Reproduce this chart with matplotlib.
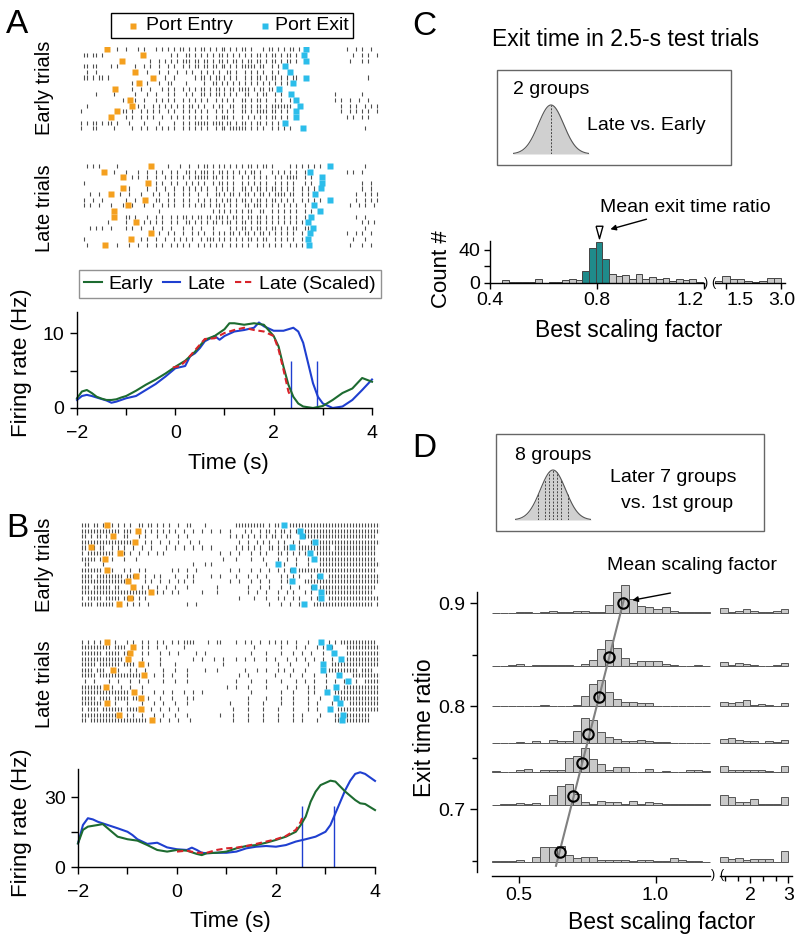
import numpy as np
import matplotlib
matplotlib.use('Agg')
import matplotlib.pyplot as plt
from matplotlib.lines import Line2D
from matplotlib.patches import Rectangle

plt.rcParams['font.family'] = ['Liberation Sans', 'DejaVu Sans']
plt.rcParams['axes.linewidth'] = 1.0

W, H = 796, 939

ORANGE = '#f4a01f'
CYAN = '#2cbdea'
GREEN = '#1d6b30'
BLUE = '#1f3fd0'
RED = '#d8232a'
TEAL = '#1f8b8b'
BAR_GRAY = '#c9c9c9'
SPIKE = '#4d4d4d'

# raster bins: spike at bin i -> time RASTER_T0 + i * RASTER_DT (s)
RASTER_T0 = -2.05
RASTER_DT = 0.061

# ---------------- panel A raster (bin indexes) ----------------
A_EARLY_SPIKES = [
    [14, 17, 21, 23, 27, 29, 31, 33, 35, 36, 38, 40, 42, 43, 45, 47, 49, 50, 52, 54, 56, 57, 59, 63, 65, 66, 68, 70, 72, 73, 75, 91, 94, 96, 99],
    [3, 4, 6, 7, 9, 32, 34, 37, 38, 40, 42, 44, 46, 48, 49, 51, 53, 55, 57, 59, 61, 62, 64, 66, 67, 69, 71, 72, 74, 93, 96, 98, 101],
    [25, 28, 30, 32, 34, 36, 37, 38, 40, 41, 43, 44, 46, 48, 49, 51, 53, 54, 56, 58, 59, 61, 62, 64, 66, 67, 69, 71, 72, 74, 92, 96, 98],
    [3, 4, 6, 7, 12, 14, 20, 23, 25, 28, 31, 33, 36, 38, 40, 41, 43, 44, 46, 47, 49, 50, 52, 54, 56, 57, 58, 59, 60, 62, 63, 66, 68],
    [4, 7, 24, 28, 31, 34, 37, 39, 42, 44, 46, 48, 51, 52, 54, 57, 59, 61, 63, 66, 68],
    [3, 4, 6, 8, 9, 11, 30, 33, 40, 42, 43, 45, 47, 48, 50, 52, 54, 57, 59, 61, 62, 64, 66, 67, 69, 71, 73, 74, 98],
    [19, 24, 28, 31, 32, 37, 43, 46, 47, 49, 51, 53, 55, 57, 59, 61, 63, 65, 67, 69, 71],
    [19, 22, 25, 29, 31, 33, 36, 38, 40, 42, 43, 45, 47, 48, 50, 52, 53, 55, 56, 57, 58, 60, 62, 63, 65, 66],
    [7, 13, 20, 24, 27, 31, 33, 37, 39, 42, 43, 45, 47, 48, 50, 52, 54, 57, 58, 61, 63, 64, 67, 69, 87, 96],
    [16, 20, 23, 27, 29, 31, 33, 36, 38, 40, 42, 44, 47, 49, 51, 53, 56, 57, 59, 61, 62, 64, 67, 69, 72, 87, 89, 92, 95, 98],
    [4, 21, 23, 26, 28, 30, 32, 34, 36, 38, 39, 41, 43, 46, 48, 49, 52, 53, 56, 57, 59, 61, 62, 64, 66, 67, 68, 69, 70, 71, 72, 89, 92, 94, 97, 99, 101],
    [2, 16, 17, 19, 22, 24, 26, 28, 31, 33, 36, 38, 40, 42, 44, 47, 49, 51, 53, 56, 57, 59, 61, 62, 63, 64, 66, 67, 69, 71, 89, 92, 94, 96, 98, 101],
    [17, 19, 22, 24, 26, 29, 32, 34, 36, 38, 40, 42, 44, 47, 49, 50, 51, 53, 56, 58, 60, 62, 64, 66, 67, 69, 71, 91, 93, 96, 98],
    [2, 4, 6, 7, 9, 11, 12, 14, 18, 23, 28, 33, 36, 38, 40, 41, 42, 43, 44, 46, 47, 48, 49, 51, 52, 54, 56, 57, 59, 61, 62, 64, 66, 68],
    [2, 6, 7, 13, 19, 22, 24, 27, 29, 31, 33, 36, 38, 40, 42, 44, 47, 49, 50, 52, 53, 54, 55, 56, 57, 59, 61, 63, 66, 68, 70, 72, 97],
]
A_LATE_SPIKES = [
    [4, 6, 8, 14, 31, 35, 38, 41, 43, 44, 46, 48, 50, 52, 54, 56, 58, 59, 61, 63, 64, 66, 72, 74, 76, 78, 80, 82, 97],
    [13, 17, 21, 24, 27, 29, 32, 34, 37, 38, 40, 42, 43, 44, 46, 48, 49, 51, 53, 55, 57, 59, 60, 62, 66, 68, 70, 72, 74, 77, 91, 93, 96],
    [19, 21, 24, 27, 30, 32, 34, 36, 38, 40, 41, 42, 43, 44, 46, 47, 49, 51, 53, 56, 58, 60, 62, 64, 67, 69, 71, 72, 73, 74, 77, 79],
    [3, 27, 29, 32, 34, 37, 39, 41, 43, 46, 48, 49, 51, 53, 56, 58, 60, 62, 64, 67, 69, 71, 73, 77, 79, 96, 99],
    [18, 24, 27, 30, 33, 36, 38, 40, 42, 44, 47, 49, 51, 53, 56, 57, 59, 61, 62, 64, 66, 67, 69, 71, 73, 76, 78, 80, 96, 99],
    [5, 8, 15, 18, 22, 26, 28, 31, 33, 36, 38, 41, 44, 47, 48, 50, 52, 53, 55, 57, 58, 60, 62, 63, 65, 67, 68, 69, 70, 72, 73, 76, 78, 94, 97, 99, 101],
    [3, 6, 9, 17, 20, 27, 28, 31, 33, 36, 38, 41, 43, 45, 47, 49, 51, 52, 54, 56, 57, 59, 61, 62, 64, 66, 67, 69, 71, 73, 76, 78, 80, 82, 94, 97, 99, 101],
    [3, 5, 8, 12, 16, 19, 23, 26, 29, 31, 33, 36, 38, 40, 42, 43, 45, 47, 48, 50, 52, 54, 57, 58, 60, 61, 62, 64, 66, 68, 70, 72, 74, 77, 92, 95, 97, 100],
    [28, 46, 48, 50, 52, 54, 56, 58, 59, 62, 63, 66, 68, 70, 72, 74, 77, 79],
    [17, 18, 20, 24, 27, 29, 32, 34, 36, 37, 39, 41, 42, 44, 45, 47, 48, 49, 51, 53, 54, 56, 58, 59, 61, 62, 64, 66, 68, 70, 72, 74, 77, 94, 97],
    [11, 17, 23, 25, 27, 29, 32, 34, 37, 38, 40, 42, 44, 46, 47, 49, 51, 52, 54, 56, 57, 59, 61, 62, 64, 66, 68, 70, 72, 74, 76, 96, 98, 100],
    [5, 7, 9, 12, 17, 19, 22, 26, 29, 32, 36, 39, 42, 46, 52, 54, 56, 57, 59, 61, 62, 64, 66, 67, 69, 71, 73, 74, 77, 78, 97],
    [28, 31, 33, 36, 39, 41, 43, 46, 48, 50, 52, 53, 55, 57, 58, 60, 62, 63, 65, 67, 69, 71, 73, 76, 91, 94, 96, 99],
    [3, 22, 24, 27, 30, 33, 35, 37, 39, 42, 44, 45, 46, 48, 50, 52, 54, 56, 58, 59, 61, 63, 64, 67, 69, 71, 73, 76, 93, 97],
    [4, 14, 18, 21, 24, 27, 29, 32, 34, 36, 38, 41, 43, 45, 47, 49, 52, 54, 56, 58, 61, 63, 65, 67, 69, 72, 74, 76, 92, 96, 99],
]
nan = np.nan
A_EARLY_ENTRY = [-1.39, -0.66, -1.09, nan, -0.82, -0.46, -0.74, -1.22, nan, -0.92, -0.89, -1.19, -1.30, nan, nan]
A_EARLY_EXIT = [2.66, 2.62, 2.65, 2.24, 2.33, 2.66, 2.40, 2.11, 2.35, 2.45, 2.54, 2.45, 2.45, 2.24, 2.60]
A_LATE_ENTRY = [-0.50, -1.45, -1.07, -0.55, -1.07, -1.31, -0.62, -0.96, -1.24, -1.24, -0.79, nan, -0.49, -0.91, -1.43]
A_LATE_EXIT = [3.15, 2.73, 2.98, 2.98, 2.96, 2.84, 3.15, 2.83, 2.94, 2.75, 2.69, 2.81, 2.73, 2.70, 2.72]

# ---------------- panel B raster ('|' = spike in a bin) ----------------
B_EARLY_RASTER = [
    "  ||| || |  | | | |  || || | | |  |  ||    |         |||||||||| | ||   |||||||||||||||||||||||||||||||  ",
    "  ||||||||||||| |||    | | | | | |  |  |  |  |  |  |    | |  | || | || | |  ||||||||||||||||||||||||||  ",
    "  || | || |     ||   | |   |  |   |  |             | | | | | | | || | ||   |||||||||||||||||||||||||   ",
    "  ||||||||||||||||||   | |  |  |  |   |  |            |  |  | | |  | |  | |   |  ||||||||||||||||||||||  ",
    "  || || ||  | | |  |  |  |    |  |  |  |  |  |       | | | | |  || | ||   ||||||||||| ||||||||||||||   ",
    "  | |||||||||   | |  |  |  | |                  |  |  |   |  | |   || | | | |   ||||||||||||||||||||   ",
    "  ||||| |   |   |   |                            |   |    |   |    |  |  |   |   |||||||||||||||||||   ",
    "   ||    |                             |   | |                 |     |   |   |   ||||||||||||||||||||||  ",
    "  |||||||   |   | |  | |        | |  |  |          |  |   |  |  |  | | |  ||||||||||||||||||||||||||   ",
    "  |||| ||||||||| |||   |  | |    |   | |     |  |    |   |  |  |    | | | |   | |   ||||||||||||||||||   ",
    "  ||||||||||||||||     | |  |  |  | |  |           |  |   |  |  |   | | |   ||||||||||||||||||||||||||   ",
    "  ||| |||||| ||       | |  |  |  |   |         |         |   |  |   |  |  |   |  |||||||||||||||||||   ",
    "  ||||||||||||||||||||||   | |  | |       |    |         |  |  |   |  | |   | |   |||||||||||||||||   ",
    "  | ||||| ||||| || | | |                              |    |   |   | |  | |   | |   |||||||||||||||||   ",
    "  |||| ||||||    | | |  |            |  |                       |   |  |  | |  |||||||||||||||||||| |   ",
]
B_LATE_RASTER = [
    "  | | | |    |   | |  | |  | |  | | ||||    |  ||    |  | |  |  | | | |  |   |      | | ||||||||||||   ",
    "  |||||||||| ||||     | |  |  |     |                      |        |    |  |   | |  |    |||||||||||||   ",
    "  ||||||| ||||| ||    | |   |  |  |     |  |              |    |    |   |  |  |   |  |    |||||||||||||   ",
    "  ||||||||||||||  |   |     |          |  |   |  |   |  |  |   |  |   |  |  |  |  |  |    ||||||||||||   ",
    "  ||||| ||||||| ||||    |   |    |               |                 |   |     |       ||||||||||||||||   ",
    "  |||| |||    |   | |  |     |   |   |     |   |        |   |  |   | |  |   |       |||||||||| ||||   ",
    "  ||||| ||||||||||||||    |  |  |    |                |  |        |    |   |   |   |    |   ||||||||||||   ",
    "   |  |    |  |   |  |  |    |   |   |               |    |    |    |    |  |  |   |  |  |   |  ||||||||  ",
    "  |||||||   |  |  |   |                           |  |   |     |      |  |   | |   |     ||||||||||||   ",
    "  ||||||||||||||||    |   |  |  |   |  |  |               |         |   |    | |      |||||||||||||||   ",
    "  ||||| |||| ||||| |||  |   |   |    | |                 |     |    |   |    |   |     ||||||||||||||   ",
    "  |||||||    |   |    |   |  |   |   |             |     |    |     |   |    |  |    |     ||||||||||   ",
    "  | |||| ||||||| |||||   |  |  |  |                 |    |    |    |    |    |  |      ||||||||||||||   ",
    "  ||||||||||||   | |  |   |  |   |   |          |   |    |    |    |    |  |     |    ||||||||||||   ",
    "  || |||||||||||||||||||    |  |  |   |             |    |    |    |    |  |    |     ||||||||||||   ",
]
B_EARLY_ENTRY = [-1.41, -0.79, -1.29, -0.85, -1.74, -1.15, -1.46, nan, -1.42, -0.83, -0.98, -0.88, -0.53, -0.94, -1.18]
B_EARLY_EXIT = [2.16, 2.49, 2.52, 2.79, 2.32, 2.69, 2.76, 2.05, 2.34, 2.88, 2.32, 2.76, 2.91, 2.91, 2.56]
B_LATE_ENTRY = [-1.41, -0.88, -0.94, -1.00, -0.73, -1.30, -0.67, nan, -1.44, -0.86, -0.73, -1.41, -0.73, -1.18, -0.51]
B_LATE_EXIT = [2.91, 3.08, 3.18, 3.31, 2.95, 2.95, 3.27, 3.46, 3.21, 3.04, 3.22, 3.29, 3.10, 3.35, 3.33]

# ---------------- firing rates (Hz) ----------------
A_T_EARLY = [-2, -1.9, -1.8, -1.7, -1.6, -1.5, -1.4, -1.3, -1.2, -1.1, -1.0, -0.8, -0.6, -0.4, -0.2, 0, 0.2, 0.4, 0.6, 0.8,
             1.0, 1.1, 1.2, 1.4, 1.6, 1.8, 2.0, 2.1, 2.2, 2.3, 2.4, 2.5, 2.6, 2.8, 3.0, 3.2, 3.4, 3.6, 3.8, 3.9, 4.0]
A_EARLY = [1.3, 2.2, 2.4, 2.0, 1.5, 1.25, 1.07, 1.07, 1.16, 1.4, 1.6, 2.3, 3.1, 3.8, 4.6, 5.5, 6.3, 7.5, 9.1, 9.6,
           10.5, 11.3, 11.3, 11.1, 11.3, 11.1, 9.6, 8.2, 5.5, 3.1, 1.5, 0.6, 0.2, 0.0, 0.27, 1.07, 2.0, 2.6, 4.0, 3.75, 3.5]
A_T_LATE = [-2, -1.9, -1.8, -1.7, -1.6, -1.4, -1.3, -1.2, -1.0, -0.8, -0.6, -0.4, -0.2, 0, 0.2, 0.3, 0.4, 0.5, 0.6, 0.8,
            0.9, 1.0, 1.2, 1.4, 1.6, 1.7, 1.8, 2.0, 2.2, 2.4, 2.5, 2.6, 2.7, 2.8, 2.9, 3.0, 3.2, 3.4, 3.6, 3.8, 4.0]
A_LATE = [1.07, 1.6, 1.75, 1.6, 1.4, 1.0, 0.7, 0.85, 1.3, 1.6, 2.4, 3.2, 4.2, 5.3, 5.6, 6.9, 7.3, 8.0, 8.9, 9.6,
          9.1, 9.6, 10.2, 10.4, 10.7, 11.4, 10.9, 10.3, 10.3, 10.7, 10.2, 8.7, 6.0, 3.3, 1.5, 0.6, 0.0, 0.2, 1.07, 2.4, 3.8]
A_T_SCALED = [-0.05, 0.1, 0.2, 0.4, 0.6, 0.8, 1.0, 1.2, 1.4, 1.6, 1.8, 2.0, 2.1, 2.2, 2.3, 2.35]
A_SCALED = [5.4, 5.6, 6.2, 7.7, 9.2, 9.3, 10.0, 10.4, 10.7, 10.4, 10.2, 9.6, 7.8, 5.1, 2.2, 1.5]
A_MEAN_EXIT = [2.36, 2.88]

B_T_EARLY = [-2, -1.9, -1.8, -1.6, -1.5, -1.4, -1.2, -1.0, -0.8, -0.6, -0.4, -0.2, 0, 0.2, 0.4, 0.5, 0.6, 0.8, 1.0, 1.2,
             1.4, 1.6, 1.8, 2.0, 2.2, 2.4, 2.5, 2.6, 2.7, 2.8, 2.9, 3.1, 3.2, 3.4, 3.6, 3.7, 3.8, 4.0]
B_EARLY = [10.1, 15.9, 17.3, 18.0, 18.4, 16.6, 13.0, 11.9, 11.3, 9.4, 7.3, 6.6, 7.3, 7.0, 5.6, 5.1, 5.9, 6.1, 6.6, 8.0,
           9.0, 9.4, 10.4, 11.6, 13.0, 15.1, 18.0, 21.6, 28.0, 32.3, 35.1, 37.0, 36.6, 32.3, 28.7, 27.3, 27.0, 24.4]
B_T_LATE = [-2, -1.9, -1.8, -1.7, -1.6, -1.4, -1.2, -1.0, -0.9, -0.8, -0.6, -0.4, -0.2, 0, 0.2, 0.3, 0.4, 0.5, 0.6, 0.8,
            1.0, 1.2, 1.4, 1.6, 1.8, 2.0, 2.2, 2.4, 2.6, 2.8, 3.0, 3.1, 3.2, 3.3, 3.4, 3.5, 3.6, 3.7, 3.8, 3.9, 4.0]
B_LATE = [10.1, 18.0, 20.9, 20.4, 19.4, 18.0, 16.6, 15.1, 13.7, 11.9, 9.9, 10.4, 8.4, 7.6, 7.3, 8.3, 7.3, 6.1, 5.9, 6.1,
          6.1, 6.6, 8.0, 8.7, 9.0, 8.7, 9.4, 10.9, 11.9, 13.0, 15.1, 18.0, 23.0, 28.0, 33.0, 37.0, 39.9, 40.6, 39.9, 38.4, 36.9]
B_T_SCALED = [0, 0.2, 0.4, 0.6, 0.8, 1.0, 1.2, 1.4, 1.6, 1.8, 2.0, 2.2, 2.4, 2.5, 2.55]
B_SCALED = [6.6, 7.0, 6.1, 6.1, 7.3, 8.0, 8.3, 9.0, 9.9, 10.9, 11.9, 13.3, 15.9, 19.4, 22.3]
B_MEAN_EXIT = [2.53, 3.18]

# ---------------- panel C histogram ----------------
C_START, C_WIDTH = 0.445, 0.025
C_COUNTS = [3, 1, 1, 1, 1, 4, 0, 1, 1, 3, 5, 3, 14, 42, 49, 29, 10, 8, 9, 5, 10, 4, 7, 5, 6, 2, 4, 3, 4, 1]
C_HIGHLIGHT = (0.74, 0.84)
C_HIGH_START, C_HIGH_WIDTH = 1.2, 0.2
C_HIGH_COUNTS = [2, 8, 5, 4, 2, 1, 2, 6, 6]
C_MEAN_RATIO = 0.807

# ---------------- panel D histograms ----------------
D_RATIO = [0.900, 0.848, 0.809, 0.773, 0.745, 0.713, 0.658]
D_MEAN_SCALE = [0.882, 0.831, 0.794, 0.754, 0.731, 0.698, 0.651]
D_START, D_NBINS = 0.4, 27
D_COUNTS = [
    [0, 0, 0, 0.7, 0.7, 0, 0.7, 1.3, 0.3, 0.7, 2, 1.3, 0.7, 0.7, 7.3, 20.7, 27.3, 14, 6.3, 5.7, 4, 5.3, 2, 0.3, 0.3, 0.3, 0.3],
    [0, 0, 1.3, 1.7, 0, 1, 0.7, 0.7, 0.7, 0.7, 0, 2, 6, 16.7, 25.7, 18.3, 7.7, 2.7, 5.3, 5.3, 5.3, 2, 0.7, 0, 0, 0.7, 0],
    [0.3, 0.3, 0.3, 0.3, 0.3, 0.3, 1.7, 0.5, 0.5, 0.3, 1.7, 10.3, 22.3, 26.7, 14.7, 7.3, 4.3, 4.3, 3, 3, 0.7, 0.5, 0.3, 0.3, 0.3, 0.3, 0.3],
    [0.5, 0.5, 0.7, 1.3, 0.7, 2, 0, 3.7, 2.3, 2.3, 12.3, 25.3, 23.3, 11.3, 6.7, 4.3, 2.3, 2.3, 3.3, 2.7, 1.3, 1.3, 0.7, 0.7, 0.3, 0.3, 0],
    [1, 0, 0, 2, 3, 0, 1.7, 1.7, 1.7, 13.7, 16.3, 24, 13.3, 7.7, 2.3, 5.3, 4.7, 0, 0, 3, 0, 1, 0, 0, 1.7, 1.7, 0.7],
    [0, 0.7, 0.7, 2.3, 0.7, 2, 0, 10.3, 18.7, 21, 11, 3.3, 0.7, 4, 2.7, 2.7, 0.7, 4.3, 0.7, 2.7, 1.7, 0.7, 0.7, 0.7, 0.7, 0.7, 0.7],
    [1, 0.7, 0.3, 1.3, 0, 5, 15, 15, 15.3, 6.3, 4, 5, 4.3, 2, 2, 2, 2, 1, 2, 2, 1, 1, 3.3, 2, 1, 0.7, 0],
]
D_HIGH_START, D_HIGH_WIDTH = 1.2, 0.2
D_HIGH_COUNTS = [
    [4.7, 0.7, 2, 3.3, 2, 0.7, 0.7, 1.3, 3.3],
    [4.5, 0.7, 2.7, 2.0, 1.0, 0.5, 0.5, 1.0, 3.0],
    [4.7, 3.3, 4, 6, 1.7, 2, 1, 0.3, 3.3],
    [4.7, 5.3, 3.3, 2, 2.7, 0.7, 2, 1, 3.7],
    [5.7, 2, 2.3, 2, 1.7, 2.3, 0.7, 0, 6.3],
    [10.3, 7.7, 3.3, 3.3, 5.7, 1.3, 1.3, 1.3, 8],
    [5, 2.3, 3.3, 1.7, 2.3, 2.3, 2.3, 0, 10.7],
]
D_HIST_SCALE = 0.00097   # exit-ratio units per count
D_BASE_OFFSET = 0.009
OCTILE_Z = [-1.15, -0.67, -0.32, 0, 0.32, 0.67, 1.15]


fig = plt.figure(figsize=(W / 100, H / 100), dpi=100)


def px_axes(left, top, right, bottom):
    return fig.add_axes([left / W, 1 - bottom / H, (right - left) / W, (bottom - top) / H])


def ftext(x, y, s, **kw):
    fig.text(x / W, 1 - y / H, s, **kw)


def spike_times(row):
    if isinstance(row, str):
        idx = [i for i, ch in enumerate(row) if ch == '|']
    else:
        idx = row
    return RASTER_T0 + RASTER_DT * np.asarray(idx, dtype=float)


def draw_raster(ax, rows, entry, exit_, xmax):
    for i, row in enumerate(rows):
        ax.vlines(spike_times(row), i - 0.36, i + 0.36, color=SPIKE, lw=0.8)
    n = len(rows)
    ax.plot(entry, range(n), 's', color=ORANGE, ms=4.2, mec='none')
    ax.plot(exit_, range(n), 's', color=CYAN, ms=4.2, mec='none')
    ax.set_xlim(-2, xmax)
    ax.set_ylim(n - 0.5, -0.5)
    ax.axis('off')


def draw_rate(ax, early, late, scaled, exits, vtop, ymax, yticks, yminor):
    ax.vlines(exits, 0, vtop, color=BLUE, lw=1.0)
    ax.plot(*late, color=BLUE, lw=1.5, clip_on=False)
    ax.plot(*early, color=GREEN, lw=1.5, clip_on=False)
    ax.plot(*scaled, color=RED, lw=1.5, ls=(0, (3, 1.8)), clip_on=False)
    ax.set_xlim(-2, 4)
    ax.set_ylim(0, ymax)
    ax.set_xticks([-2, 0, 2, 4])
    ax.set_xticks([-1, 1, 3], minor=True)
    ax.set_yticks(yticks)
    ax.set_yticks(yminor, minor=True)
    ax.spines[['top', 'right']].set_visible(False)
    ax.tick_params(which='both', direction='out', length=5, width=1, labelsize=14)
    ax.tick_params(axis='x', pad=7)
    ax.tick_params(axis='y', pad=4)


def gauss_icon(ax, lines):
    x = np.linspace(-3, 3, 200)
    y = np.exp(-x ** 2 / 2)
    ax.fill_between(x, 0, y, color='#d0d0d0', lw=0)
    ax.plot(x, y, color='#555555', lw=0.8)
    for z in lines:
        ax.plot([z, z], [0, np.exp(-z ** 2 / 2)], color='#444444', lw=0.7, ls=(0, (2, 1.5)))
    ax.set_xlim(-3, 3)
    ax.set_ylim(0, 1.02)
    ax.axis('off')


def box(left, top, right, bottom, color='#666666'):
    fig.add_artist(Rectangle((left / W, 1 - bottom / H), (right - left) / W, (bottom - top) / H,
                             transform=fig.transFigure, fill=False, ec=color, lw=1.0))


# ================= panel A =================
ftext(6, 33, 'A', fontsize=24, va='baseline')

box(111, 13, 353, 38, color='black')
for xm, col, lab, xt in [(133, ORANGE, 'Port Entry', 146), (265, CYAN, 'Port Exit', 275)]:
    fig.add_artist(Line2D([xm / W], [1 - 25.5 / H], transform=fig.transFigure, ls='none',
                          marker='s', ms=4.5, color=col, mec='none'))
    ftext(xt, 25.5, lab, fontsize=14, va='center', ha='left')

A_PX = (372 - 77) / 6.0
axAe = px_axes(77, 46.5, 380, 131.1)
draw_raster(axAe, A_EARLY_SPIKES, A_EARLY_ENTRY, A_EARLY_EXIT, -2 + (380 - 77) / A_PX)
axAl = px_axes(77, 163.2, 380, 247.5)
draw_raster(axAl, A_LATE_SPIKES, A_LATE_ENTRY, A_LATE_EXIT, -2 + (380 - 77) / A_PX)
ftext(45, 88, 'Early trials', fontsize=14.5, rotation=90, ha='center', va='center')
ftext(45, 208, 'Late trials', fontsize=14.5, rotation=90, ha='center', va='center')

rate_handles = [Line2D([], [], color=GREEN, lw=1.5), Line2D([], [], color=BLUE, lw=1.5),
                Line2D([], [], color=RED, lw=1.5, ls=(0, (3, 1.8)))]
leg = fig.legend(rate_handles, ['Early', 'Late', 'Late (Scaled)'], loc='center',
                 bbox_to_anchor=(230 / W, 1 - 284 / H), ncol=3, fontsize=14, fancybox=False,
                 edgecolor='#777777', handlelength=0.9, handletextpad=0.35, columnspacing=0.5,
                 borderpad=0.25, borderaxespad=0)
leg.get_frame().set_linewidth(1.0)

axA = px_axes(77, 312, 372, 408)
draw_rate(axA, (A_T_EARLY, A_EARLY), (A_T_LATE, A_LATE), (A_T_SCALED, A_SCALED),
          A_MEAN_EXIT, 6.3, 12.8, [0, 10], [5])
ftext(22, 363, 'Firing rate (Hz)', fontsize=16, rotation=90, ha='center', va='center')
ftext(228, 463, 'Time (s)', fontsize=16, ha='center', va='center')

# ================= panel B =================
ftext(6, 537, 'B', fontsize=24, va='baseline')
B_PX = (375 - 78) / 6.0
axBe = px_axes(78, 522.2, 380, 606.5)
draw_raster(axBe, B_EARLY_RASTER, B_EARLY_ENTRY, B_EARLY_EXIT, -2 + (380 - 78) / B_PX)
axBl = px_axes(78, 638.9, 380, 723.1)
draw_raster(axBl, B_LATE_RASTER, B_LATE_ENTRY, B_LATE_EXIT, -2 + (380 - 78) / B_PX)
ftext(45, 565, 'Early trials', fontsize=14.5, rotation=90, ha='center', va='center')
ftext(45, 684, 'Late trials', fontsize=14.5, rotation=90, ha='center', va='center')

axB = px_axes(78, 769, 375, 867)
draw_rate(axB, (B_T_EARLY, B_EARLY), (B_T_LATE, B_LATE), (B_T_SCALED, B_SCALED),
          B_MEAN_EXIT, 26, 42, [0, 30], [15])
ftext(22, 823, 'Firing rate (Hz)', fontsize=16, rotation=90, ha='center', va='center')
ftext(230, 922, 'Time (s)', fontsize=16, ha='center', va='center')

# ================= panel C =================
ftext(412, 35, 'C', fontsize=24, va='baseline')
ftext(626, 40, 'Exit time in 2.5-s test trials', fontsize=16.5, ha='center', va='center')
box(497, 70, 731, 165)
ftext(513, 90, '2 groups', fontsize=14, ha='left', va='center')
ftext(587, 125, 'Late vs. Early', fontsize=14, ha='left', va='center')
gauss_icon(px_axes(513, 104, 589, 154), [0])

axC = px_axes(490, 240.7, 704, 282.7)
c_edges = C_START + C_WIDTH * np.arange(len(C_COUNTS))
c_cols = [TEAL if C_HIGHLIGHT[0] < e < C_HIGHLIGHT[1] else BAR_GRAY for e in c_edges]
axC.bar(c_edges, C_COUNTS, width=C_WIDTH, align='edge', color=c_cols, edgecolor='#444444', lw=0.7)
axC.set_xlim(0.4, 1.2)
axC.set_ylim(0, 51)
axC.set_xticks([0.4, 0.8, 1.2])
axC.set_xticklabels(['0.4', '0.8', '1.2'])
axC.get_xticklabels()[-1].set_ha('right')
axC.set_yticks([0, 40])
axC.set_yticks([20], minor=True)
axC.spines[['top', 'right']].set_visible(False)
axC.tick_params(which='both', direction='out', length=4, width=1, labelsize=14, pad=3)
axC.plot([C_MEAN_RATIO], [61], marker=[(-0.55, 1), (0.55, 1), (0, -1), (-0.55, 1)], ms=9,
         mfc='white', mec='black', mew=1.0, clip_on=False)
axC.annotate('', xy=(0.84, 64), xytext=(0.995, 78), annotation_clip=False,
             arrowprops=dict(arrowstyle='-|>', color='black', lw=1.0, mutation_scale=8))
ftext(685, 208, 'Mean exit time ratio', fontsize=14, ha='center', va='center')

axC2 = px_axes(715, 240.7, 785, 282.7)
h_edges = C_HIGH_START + C_HIGH_WIDTH * np.arange(len(C_HIGH_COUNTS))
axC2.bar(h_edges, C_HIGH_COUNTS, width=C_HIGH_WIDTH, align='edge', color=BAR_GRAY,
         edgecolor='#444444', lw=0.7)
axC2.set_xlim(1.2, 3.1)
axC2.set_ylim(0, 51)
axC2.set_xticks([1.5, 3.0])
axC2.set_xticklabels(['1.5', '3.0'])
axC2.get_xticklabels()[0].set_ha('left')
axC2.set_yticks([])
axC2.spines[['top', 'right', 'left']].set_visible(False)
axC2.tick_params(which='both', direction='out', length=4, width=1, labelsize=14, pad=3)
ftext(706, 283, ')', fontsize=9, ha='center', va='center')
ftext(713, 283, '(', fontsize=9, ha='center', va='center')
ftext(441, 269, 'Count #', fontsize=16, rotation=90, ha='center', va='center')
ftext(629, 331, 'Best scaling factor', fontsize=16.5, ha='center', va='center')

# ================= panel D =================
ftext(412, 457, 'D', fontsize=24, va='baseline')
box(496, 434, 764, 531)
ftext(515, 456, '8 groups', fontsize=14, ha='left', va='center')
ftext(673, 478, 'Later 7 groups', fontsize=14, ha='center', va='center')
ftext(677, 503, 'vs. 1st group', fontsize=14, ha='center', va='center')
gauss_icon(px_axes(515, 469, 591, 520), OCTILE_Z)

axD = px_axes(492, 592, 710, 872)
axD2 = px_axes(720, 592, 792, 872)
d_edges = D_START + (1.2 - D_START) / D_NBINS * np.arange(D_NBINS)
d_w = (1.2 - D_START) / D_NBINS
dh_edges = D_HIGH_START + D_HIGH_WIDTH * np.arange(9)
for ratio, counts, high in zip(D_RATIO, D_COUNTS, D_HIGH_COUNTS):
    base = ratio - D_BASE_OFFSET
    axD.bar(d_edges, np.array(counts) * D_HIST_SCALE, width=d_w, bottom=base, align='edge',
            color=BAR_GRAY, edgecolor='#555555', lw=0.7, clip_on=False)
    axD2.bar(dh_edges, np.array(high) * D_HIST_SCALE, width=D_HIGH_WIDTH, bottom=base, align='edge',
             color=BAR_GRAY, edgecolor='#555555', lw=0.7, clip_on=False)

slope, icpt = np.polyfit(D_RATIO, D_MEAN_SCALE, 1)
yl = np.array([0.645, 0.905])
axD.plot(slope * yl + icpt, yl, color='#808080', lw=1.5, zorder=3, clip_on=False)
axD.plot(D_MEAN_SCALE, D_RATIO, 'o', mfc='none', mec='black', mew=1.5, ms=7.5, zorder=4, clip_on=False)
axD.annotate('', xy=(0.905, 0.9025), xytext=(1.065, 0.9105), annotation_clip=False,
             arrowprops=dict(arrowstyle='-|>', color='black', lw=1.0, mutation_scale=8))
ftext(692, 566, 'Mean scaling factor', fontsize=14, ha='center', va='center')

for ax in (axD, axD2):
    ax.set_ylim(0.639, 0.911)
    ax.spines[['top', 'right']].set_visible(False)
    ax.spines['bottom'].set_position(('outward', 3))
    ax.tick_params(which='both', direction='out', width=1, labelsize=14, pad=3)
    ax.tick_params(which='major', length=5)
    ax.tick_params(which='minor', length=3.5)
axD.set_xlim(0.4, 1.2)
axD.set_xticks([0.5, 1.0])
axD.set_xticklabels(['0.5', '1.0'])
axD.spines['left'].set_position(('outward', 11))
axD.set_yticks([0.7, 0.8, 0.9])
axD.set_yticklabels(['0.7', '0.8', '0.9'])
axD.set_yticks([0.65, 0.75, 0.85], minor=True)
axD2.set_xlim(1.2, 3.1)
axD2.set_xticks([2, 3])
axD2.set_xticks([4 / 3, 5 / 3, 7 / 3, 8 / 3], minor=True)
axD2.set_yticks([])
axD2.spines['left'].set_visible(False)
ftext(713, 875, ')', fontsize=9, ha='center', va='center')
ftext(721, 875, '(', fontsize=9, ha='center', va='center')
ftext(425, 728, 'Exit time ratio', fontsize=16.5, rotation=90, ha='center', va='center')
ftext(662, 922, 'Best scaling factor', fontsize=16.5, ha='center', va='center')

fig.savefig('out.png', dpi=100, facecolor='white')
